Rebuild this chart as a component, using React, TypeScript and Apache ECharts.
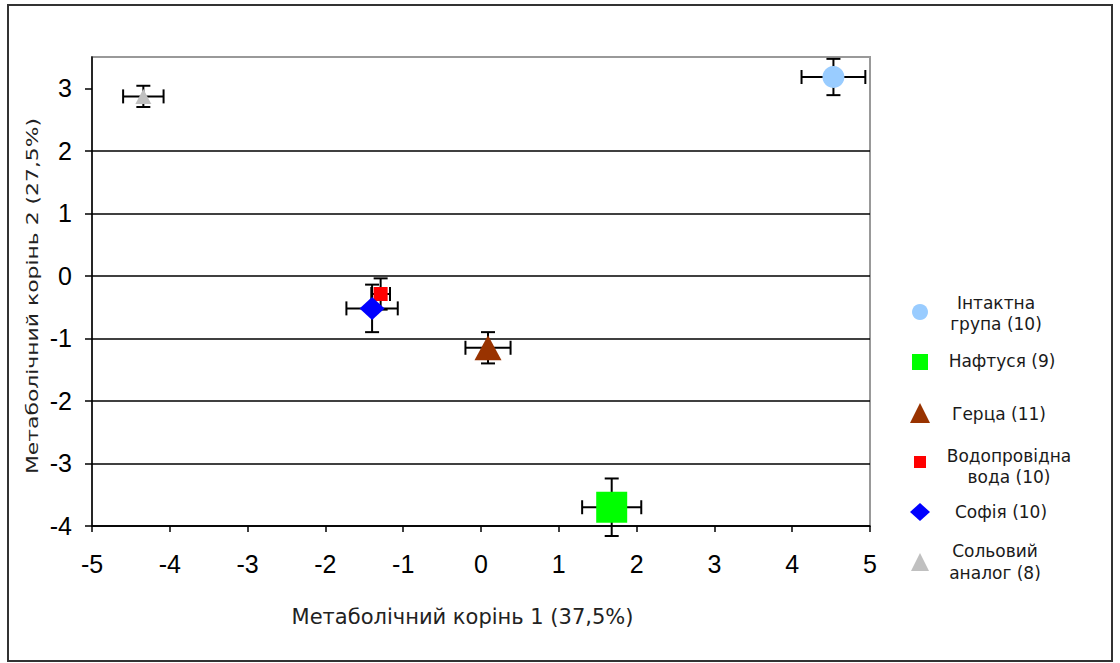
import React, { useEffect, useRef } from "react";
import * as echarts from "echarts";

// Group names (legend labels, split into display lines)
const groupNames = [
  "Інтактна група (10)",
  "Нафтуся (9)",
  "Герца (11)",
  "Водопровідна вода (10)",
  "Софія (10)",
  "Сольовий аналог (8)",
];
const legendLines = [
  ["Інтактна", "група (10)"],
  ["Нафтуся (9)"],
  ["Герца (11)"],
  ["Водопровідна", "вода (10)"],
  ["Софія (10)"],
  ["Сольовий", "аналог (8)"],
];

// Group centroids on the two metabolic roots and their error half-widths
const root1 = [4.53, 1.68, 0.09, -1.29, -1.4, -4.34];
const root2 = [3.18, -3.7, -1.15, -0.29, -0.52, 2.87];
const err1 = [0.41, 0.38, 0.29, 0.12, 0.33, 0.26];
const err2 = [0.29, 0.46, 0.25, 0.25, 0.38, 0.17];

// Tick labels
const xTicks = [-5, -4, -3, -2, -1, 0, 1, 2, 3, 4, 5];
const yTicks = [-4, -3, -2, -1, 0, 1, 2, 3];

const xTitle = "Метаболічний корінь 1 (37,5%)";
const yTitle = "Метаболічний корінь 2 (27,5%)";

// Marker styles per group
const colors = ["#99CCFF", "#00FF00", "#993300", "#FF0000", "#0000FF", "#C0C0C0"];
const symbols = ["circle", "rect", "triangle", "rect", "diamond", "triangle"];
const symbolSizes: any[] = [22, 31, [27, 25], 14, [25, 23], [16, 15]];

const tickFont = '"Liberation Sans Narrow", "Arial Narrow", "Liberation Sans", Arial';

// Legend layout
const legendMarkerX = 920;
const legendMarkerY = [312, 362, 413, 462, 512, 562];
const legendTextX = [996, 1002, 999, 1009, 1001, 995];
const legendTextY = [
  [303, 324],
  [361],
  [414],
  [456, 477],
  [512],
  [551, 573],
];

function legendMarker(i: number) {
  const x = legendMarkerX;
  const y = legendMarkerY[i];
  const fill = colors[i];
  switch (i) {
    case 0:
      return { type: "circle", shape: { cx: x, cy: y, r: 8 }, style: { fill } };
    case 1:
      return { type: "rect", shape: { x: x - 8, y: y - 8, width: 16, height: 16 }, style: { fill } };
    case 2:
      return {
        type: "polygon",
        shape: { points: [[x, y - 10], [x + 10, y + 10], [x - 10, y + 10]] },
        style: { fill },
      };
    case 3:
      return { type: "rect", shape: { x: x - 6, y: y - 6, width: 12, height: 12 }, style: { fill } };
    case 4:
      return {
        type: "polygon",
        shape: { points: [[x, y - 9], [x + 10, y], [x, y + 9], [x - 10, y]] },
        style: { fill },
      };
    default:
      return {
        type: "polygon",
        shape: { points: [[x, y - 9], [x + 9, y + 9], [x - 9, y + 9]] },
        style: { fill },
      };
  }
}

export default function App() {
  const ref = useRef<HTMLDivElement>(null);

  useEffect(() => {
    if (!ref.current) return;
    const chart = echarts.init(ref.current, undefined, { renderer: "svg" });

    const errorData = groupNames.map((_, i) => [root1[i], root2[i], err1[i], err2[i]]);

    const errorSeries = {
      type: "custom",
      name: "errors",
      z: 2,
      silent: true,
      dimensions: ["x", "y", "ex", "ey"],
      encode: { x: 0, y: 1 },
      data: errorData,
      renderItem: (params: any, api: any) => {
        const x = api.value(0);
        const y = api.value(1);
        const ex = api.value(2);
        const ey = api.value(3);
        const l = api.coord([x - ex, y]);
        const r = api.coord([x + ex, y]);
        const t = api.coord([x, y + ey]);
        const b = api.coord([x, y - ey]);
        const cap = 7;
        const style = { stroke: "#000", lineWidth: 2 };
        const line = (x1: number, y1: number, x2: number, y2: number) => ({
          type: "line",
          shape: { x1, y1, x2, y2 },
          style,
        });
        return {
          type: "group",
          children: [
            line(l[0], l[1], r[0], r[1]),
            line(l[0], l[1] - cap, l[0], l[1] + cap),
            line(r[0], r[1] - cap, r[0], r[1] + cap),
            line(t[0], t[1], b[0], b[1]),
            line(t[0] - cap, t[1], t[0] + cap, t[1]),
            line(b[0] - cap, b[1], b[0] + cap, b[1]),
          ],
        };
      },
    };

    const pointSeries = groupNames.map((name, i) => ({
      type: "scatter",
      name,
      z: 3,
      symbol: symbols[i],
      symbolSize: symbolSizes[i],
      itemStyle: { color: colors[i], opacity: 1 },
      data: [[root1[i], root2[i]]],
    }));

    const legendGraphics: any[] = [];
    legendLines.forEach((lines, i) => {
      legendGraphics.push(legendMarker(i));
      lines.forEach((txt, j) => {
        legendGraphics.push({
          type: "text",
          x: legendTextX[i],
          y: legendTextY[i][j],
          style: {
            text: txt,
            fill: "#1a1a1a",
            font: '17px "DejaVu Sans"',
            textAlign: "center",
            textVerticalAlign: "middle",
          },
        });
      });
    });

    chart.setOption({
      animation: false,
      backgroundColor: "#fff",
      grid: {
        left: 92,
        top: 57,
        width: 778,
        height: 469,
        show: true,
        borderColor: "#999",
        borderWidth: 2,
        backgroundColor: "transparent",
      },
      xAxis: {
        type: "value",
        min: xTicks[0],
        max: xTicks[xTicks.length - 1],
        interval: 1,
        name: xTitle,
        nameLocation: "middle",
        nameGap: 80,
        nameTextStyle: {
          fontFamily: "DejaVu Sans",
          fontSize: 21,
          color: "#222",
          padding: [0, 37, 0, 0],
        },
        axisLine: { show: true, onZero: false, lineStyle: { color: "#000", width: 1.5 } },
        axisTick: { show: true, length: 6, lineStyle: { color: "#000", width: 1.5 } },
        axisLabel: {
          margin: 25,
          fontFamily: tickFont,
          fontSize: 25,
          color: "#000",
        },
        splitLine: { show: false },
      },
      yAxis: {
        type: "value",
        min: yTicks[0],
        max: 3.5,
        interval: 1,
        axisLine: { show: true, onZero: false, lineStyle: { color: "#000", width: 1.5 } },
        axisTick: {
          show: true,
          length: 7,
          customValues: yTicks,
          lineStyle: { color: "#000", width: 1.5 },
        },
        axisLabel: {
          margin: 20,
          customValues: yTicks,
          fontFamily: tickFont,
          fontSize: 25,
          color: "#000",
        },
        splitLine: {
          show: true,
          showMaxLine: false,
          lineStyle: { color: "#000", width: 1.5 },
        },
      },
      graphic: [
        {
          type: "rect",
          shape: { x: 8, y: 5, width: 1104, height: 656 },
          style: { fill: "none", stroke: "#333", lineWidth: 2 },
          z: 0,
        },
        {
          type: "text",
          x: 33,
          y: 296,
          rotation: Math.PI / 2,
          scaleX: 1.46,
          style: {
            text: yTitle,
            fill: "#222",
            font: '15px "DejaVu Sans"',
            textAlign: "center",
            textVerticalAlign: "middle",
          },
        },
        ...legendGraphics,
      ],
      series: [errorSeries, ...pointSeries],
    });

    return () => chart.dispose();
  }, []);

  return (
    <div
      ref={ref}
      style={{ position: "fixed", left: 0, top: 0, width: 1120, height: 663 }}
    />
  );
}
